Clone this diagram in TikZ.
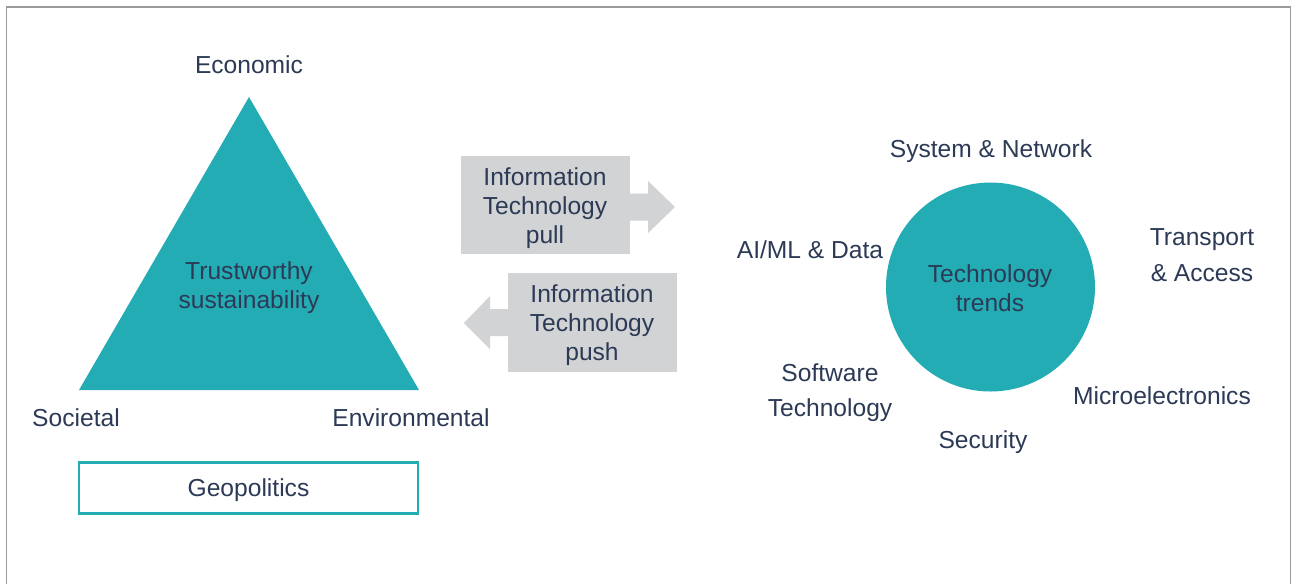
\documentclass[tikz,border=0pt]{standalone}
\usepackage{fontspec}
\setmainfont{Liberation Sans}
\definecolor{teal}{HTML}{24ACB4}
\definecolor{ink}{HTML}{2C3A56}
\definecolor{lightgray}{HTML}{D1D3D4}
\definecolor{framegray}{HTML}{9A9A9A}
\tikzset{
  lbl/.style={text=ink, font=\fontsize{14}{16.5}\selectfont, align=center, inner sep=0pt, text depth=0pt},
  widelbl/.style={lbl, font=\fontsize{14}{20}\selectfont},
  geobox/.style={draw=teal, line width=1.7pt, minimum width=339*0.02cm, minimum height=51*0.02cm, lbl}
}

\begin{document}
\begin{tikzpicture}[x=0.02cm,y=-0.02cm]
  \useasboundingbox (0,0) rectangle (1292,583);
  % outer frame, open at the bottom
  \draw[framegray, line width=0.8pt] (6.5,600) -- (6.5,7) -- (1290.5,7) -- (1290.5,600);

  % sustainability triangle
  \fill[teal] (249,97) -- (419,390) -- (79,390) -- cycle;
  \node[lbl] (econ) at (249,65) {Economic};
  \node[lbl] (soc) at (76,418) {Societal};
  \node[lbl] (env) at (411,418) {Environmental};
  \node[lbl] (trust) at (249,285) {Trustworthy\\sustainability};
  \node[geobox] (geo) at (248.5,487.5) {Geopolitics};

  % pull and push arrows
  \fill[lightgray] (461,156) rectangle (630,254);
  \fill[lightgray] (629,193.5) -- (648,193.5) -- (648,181) -- (675,207) -- (648,233) -- (648,220.5) -- (629,220.5) -- cycle;
  \node[lbl] (pull) at (545,206) {Information\\Technology\\pull};
  \fill[lightgray] (508,273) rectangle (677,372);
  \fill[lightgray] (509,309) -- (490,309) -- (490,296) -- (464,323) -- (490,349) -- (490,336) -- (509,336) -- cycle;
  \node[lbl] (push) at (592,323) {Information\\Technology\\push};

  % technology trends
  \fill[teal] (990.5,287) circle [radius=104.5];
  \node[lbl] (trends) at (990,288) {Technology\\trends};
  \node[lbl] (sysnet) at (991,149) {System \& Network};
  \node[lbl] (aiml) at (810,250) {AI/ML \& Data};
  \node[widelbl] (transp) at (1202,255) {Transport\\\& Access};
  \node[widelbl] (soft) at (830,390) {Software\\Technology};
  \node[lbl] (micro) at (1162,396) {Microelectronics};
  \node[lbl] (sec) at (983,440) {Security};
\end{tikzpicture}
\end{document}
